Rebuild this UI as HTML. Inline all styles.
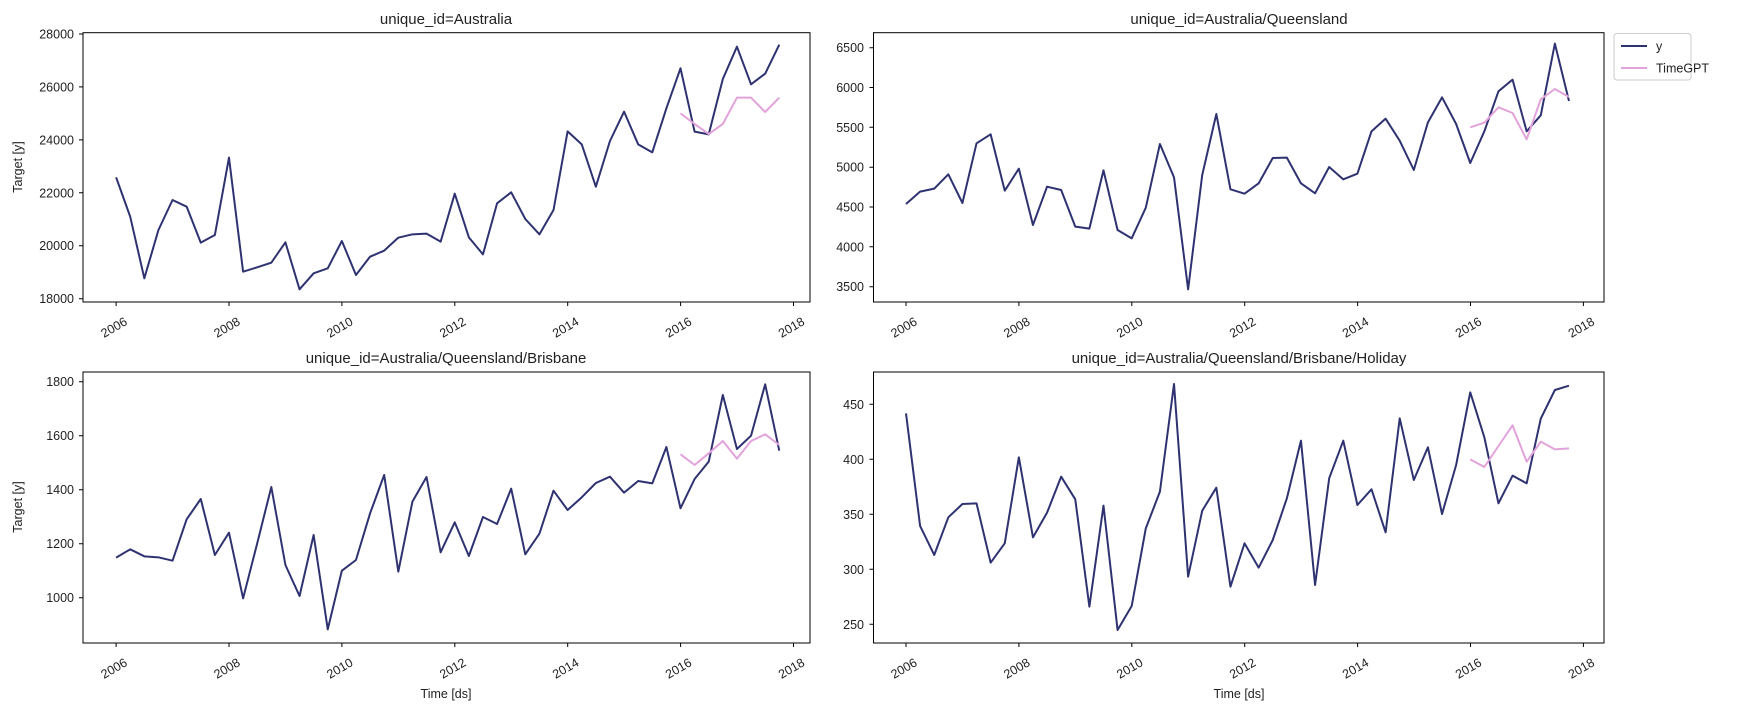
<!DOCTYPE html>
<html><head><meta charset="utf-8"><style>
body{margin:0;background:#fff}
text{font-family:"Liberation Sans","DejaVu Sans",sans-serif;fill:#222}
.t{font-size:12.5px}
.ti{font-size:15px}
.ln{fill:none;stroke-width:2;vector-effect:non-scaling-stroke;stroke-linejoin:round}
.y{stroke:#2f3271}.g{stroke:#e2a2da}
.ax{fill:none;stroke:#000;stroke-width:1}
.tk{stroke:#000;stroke-width:1}
</style></head><body>
<svg width="1750" height="711" xmlns="http://www.w3.org/2000/svg">
<rect class="ax" x="83" y="32.7" width="727" height="269.3"/>
<rect class="ax" x="873.5" y="32.7" width="730.5" height="269.3"/>
<rect class="ax" x="83" y="372" width="727" height="271"/>
<rect class="ax" x="873.5" y="372" width="730.5" height="271"/>
<text class="ti" x="446" y="24" text-anchor="middle">unique_id=Australia</text>
<text class="ti" x="1239" y="24" text-anchor="middle">unique_id=Australia/Queensland</text>
<text class="ti" x="446" y="363" text-anchor="middle">unique_id=Australia/Queensland/Brisbane</text>
<text class="ti" x="1239" y="363" text-anchor="middle">unique_id=Australia/Queensland/Brisbane/Holiday</text>
<text class="t" transform="translate(22,167) rotate(-90)" text-anchor="middle">Target [y]</text>
<text class="t" transform="translate(22,507) rotate(-90)" text-anchor="middle">Target [y]</text>
<text class="t" x="446" y="698" text-anchor="middle">Time [ds]</text>
<text class="t" x="1239" y="698" text-anchor="middle">Time [ds]</text>
<g class="t" text-anchor="end">
<text x="74" y="38.5">28000</text><text x="74" y="91.4">26000</text><text x="74" y="144.4">24000</text><text x="74" y="197.3">22000</text><text x="74" y="250.2">20000</text><text x="74" y="303.2">18000</text>
<text x="864" y="52.2">6500</text><text x="864" y="92">6000</text><text x="864" y="131.8">5500</text><text x="864" y="171.7">5000</text><text x="864" y="211.5">4500</text><text x="864" y="251.3">4000</text><text x="864" y="291.2">3500</text>
<text x="74" y="386.2">1800</text><text x="74" y="440.2">1600</text><text x="74" y="494.2">1400</text><text x="74" y="548.2">1200</text><text x="74" y="602.2">1000</text>
<text x="864" y="408.8">450</text><text x="864" y="463.8">400</text><text x="864" y="518.8">350</text><text x="864" y="573.8">300</text><text x="864" y="628.8">250</text>
</g>
<path class="tk" d="M79 34h4M79 86.9h4M79 139.9h4M79 192.8h4M79 245.7h4M79 298.7h4
M869.5 47.7h4M869.5 87.5h4M869.5 127.3h4M869.5 167.2h4M869.5 207h4M869.5 246.8h4M869.5 286.7h4
M79 381.7h4M79 435.7h4M79 489.7h4M79 543.7h4M79 597.7h4
M869.5 404.3h4M869.5 459.3h4M869.5 514.3h4M869.5 569.3h4M869.5 624.3h4
M116.1 302v4M229 302v4M341.9 302v4M454.8 302v4M567.7 302v4M680.6 302v4M793.5 302v4
M906 302v4M1018.9 302v4M1131.8 302v4M1244.7 302v4M1357.6 302v4M1470.5 302v4M1583.4 302v4
M116.1 643v4M229 643v4M341.9 643v4M454.8 643v4M567.7 643v4M680.6 643v4M793.5 643v4
M906 643v4M1018.9 643v4M1131.8 643v4M1244.7 643v4M1357.6 643v4M1470.5 643v4M1583.4 643v4"/>
<g class="t" text-anchor="middle">
<text transform="translate(116.1,331) rotate(-30)">2006</text><text transform="translate(229,331) rotate(-30)">2008</text><text transform="translate(341.9,331) rotate(-30)">2010</text><text transform="translate(454.8,331) rotate(-30)">2012</text><text transform="translate(567.7,331) rotate(-30)">2014</text><text transform="translate(680.6,331) rotate(-30)">2016</text><text transform="translate(793.5,331) rotate(-30)">2018</text>
<text transform="translate(906,331) rotate(-30)">2006</text><text transform="translate(1018.9,331) rotate(-30)">2008</text><text transform="translate(1131.8,331) rotate(-30)">2010</text><text transform="translate(1244.7,331) rotate(-30)">2012</text><text transform="translate(1357.6,331) rotate(-30)">2014</text><text transform="translate(1470.5,331) rotate(-30)">2016</text><text transform="translate(1583.4,331) rotate(-30)">2018</text>
<text transform="translate(116.1,672) rotate(-30)">2006</text><text transform="translate(229,672) rotate(-30)">2008</text><text transform="translate(341.9,672) rotate(-30)">2010</text><text transform="translate(454.8,672) rotate(-30)">2012</text><text transform="translate(567.7,672) rotate(-30)">2014</text><text transform="translate(680.6,672) rotate(-30)">2016</text><text transform="translate(793.5,672) rotate(-30)">2018</text>
<text transform="translate(906,672) rotate(-30)">2006</text><text transform="translate(1018.9,672) rotate(-30)">2008</text><text transform="translate(1131.8,672) rotate(-30)">2010</text><text transform="translate(1244.7,672) rotate(-30)">2012</text><text transform="translate(1357.6,672) rotate(-30)">2014</text><text transform="translate(1470.5,672) rotate(-30)">2016</text><text transform="translate(1583.4,672) rotate(-30)">2018</text>
</g>
<g transform="translate(116.1,20) scale(14.11,0.33333)">
<polyline class="ln y" points="0,472 1,590 2,775 3,630 4,540 5,560 6,668 7,645 8,413 9,755 10,742 11,728 12,667 13,808 14,760 15,745 16,663 17,765 18,710 19,692 20,653 21,643 22,641 23,665 24,521 25,652 26,703 27,550 28,517 29,597 30,643 31,570 32,334 33,373 34,500 35,363 36,275 37,373 38,397 39,265 40,145 41,335 42,343 43,177 44,80 45,193 46,161 47,74"/>
<polyline class="ln g" points="40,280 41,312 42,342 43,312 44,233 45,233 46,276 47,233"/>
</g>
<g transform="translate(906,20) scale(14.106,0.33333)">
<polyline class="ln y" points="0,552 1,515 2,506 3,463 4,549 5,370 6,343 7,512 8,446 9,615 10,500 11,510 12,620 13,626 14,451 15,630 16,655 17,563 18,372 19,472 20,808 21,465 22,282 23,508 24,521 25,490 26,414 27,413 28,490 29,520 30,441 31,478 32,461 33,334 34,296 35,362 36,450 37,307 38,232 39,312 40,429 41,334 42,214 43,179 44,334 45,286 46,71 47,243"/>
<polyline class="ln g" points="40,322 41,308 42,262 43,279 44,358 45,238 46,207 47,231"/>
</g>
<g transform="translate(116.1,325) scale(14.11,0.33333)">
<polyline class="ln y" points="0,698 1,673 2,694 3,697 4,707 5,583 6,522 7,690 8,623 9,820 10,655 11,486 12,720 13,813 14,630 15,913 16,737 17,705 18,565 19,450 20,740 21,530 22,456 23,682 24,592 25,693 26,576 27,597 28,491 29,688 30,626 31,497 32,555 33,517 34,474 35,455 36,503 37,468 38,475 39,366 40,550 41,462 42,410 43,210 44,372 45,332 46,178 47,377"/>
<polyline class="ln g" points="40,388 41,420 42,385 43,348 44,401 45,348 46,328 47,360"/>
</g>
<g transform="translate(906,325) scale(14.106,0.33333)">
<polyline class="ln y" points="0,265 1,603 2,690 3,577 4,537 5,535 6,713 7,655 8,397 9,637 10,563 11,455 12,523 13,845 14,542 15,915 16,843 17,610 18,500 19,177 20,755 21,557 22,488 23,785 24,655 25,728 26,645 27,520 28,347 29,780 30,460 31,347 32,540 33,493 34,622 35,280 36,465 37,367 38,567 39,420 40,202 41,337 42,535 43,452 44,475 45,281 46,195 47,182"/>
<polyline class="ln g" points="40,403 41,426 42,363 43,301 44,410 45,350 46,373 47,370"/>
</g>
<rect x="1614" y="33.5" width="77" height="46.5" rx="3" fill="#fff" stroke="#ccc"/>
<line x1="1621" y1="46" x2="1647" y2="46" stroke="#2f3271" stroke-width="2"/>
<line x1="1621" y1="68" x2="1647" y2="68" stroke="#e2a2da" stroke-width="2"/>
<text class="t" x="1656" y="50.5">y</text>
<text class="t" x="1656" y="72.5">TimeGPT</text>
</svg>
</body></html>
